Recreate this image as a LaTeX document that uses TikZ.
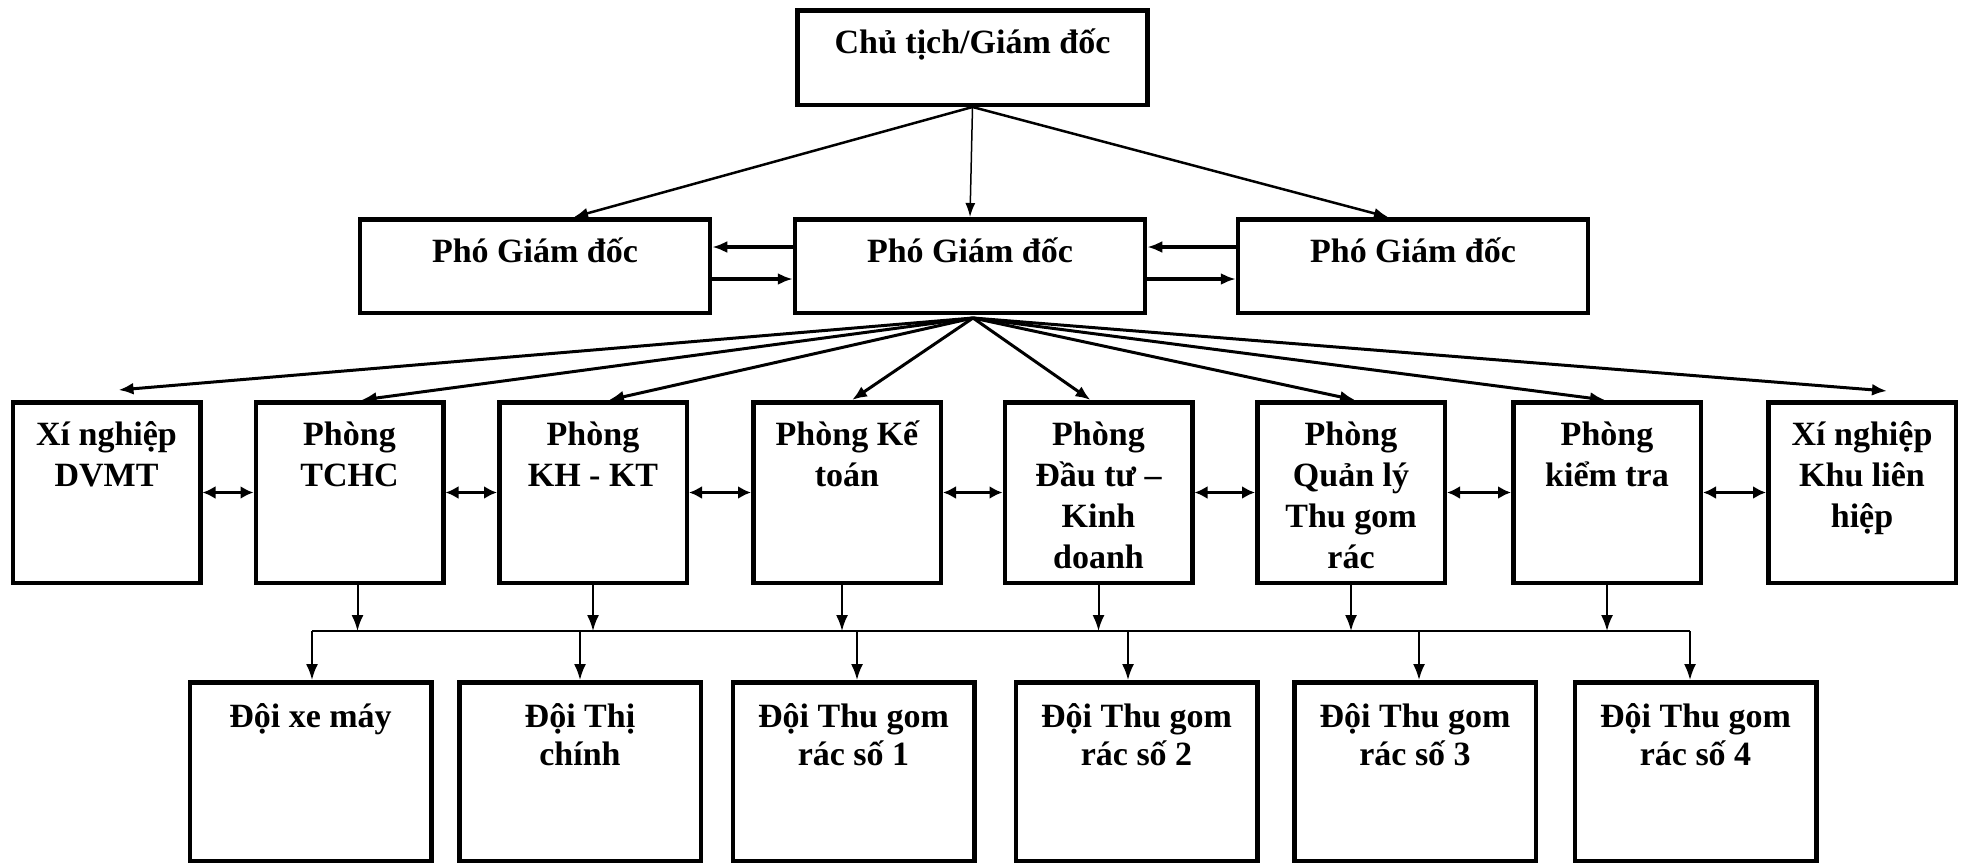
\documentclass[tikz,border=0pt]{standalone}
\usepackage{fontspec}
\setmainfont{Liberation Serif}
\usetikzlibrary{arrows.meta}
\newcommand\myStrutA{\rule{0pt}{43pt}}
\newcommand\myStrutB{\rule{0pt}{45pt}}
\newcommand\boxtxt[3]{\parbox[c][#2][t]{#1}{\centering #3}}
\begin{document}
\begin{tikzpicture}[x=1pt,y=-1pt,
  box/.style={draw, line width=4.5pt, inner sep=0pt, fill=white,
    font=\fontsize{34}{41}\selectfont\bfseries},
  topbox/.style={box, minimum width=350pt, minimum height=94.5pt},
  pgd/.style={box, minimum width=350pt, minimum height=93.5pt},
  rowbox/.style={box, minimum width=187.5pt, minimum height=180.5pt},
  botbox/.style={box, minimum width=241.5pt, minimum height=178.5pt,
    font=\fontsize{34}{38}\selectfont\bfseries},
  arrT/.style={-{Latex[length=14pt,width=11pt]}, line width=2.5pt},
  arrThin/.style={-{Latex[length=14pt,width=10pt]}, line width=1.5pt},
  arrH/.style={-{Latex[length=15pt,width=12pt]}, line width=3.5pt},
  arrF/.style={-{Latex[length=15pt,width=12pt]}, line width=3pt},
  arrD/.style={{Latex[length=13pt,width=13pt]}-{Latex[length=13pt,width=13pt]}, line width=3.5pt},
  arrV/.style={-{Latex[length=16pt,width=12pt]}, line width=2pt},
  bus/.style={line width=2pt}
]
\useasboundingbox (0,0) rectangle (1969,865);

% top
\node[topbox] (top) at (972.5,57.5) {\boxtxt{350pt}{94.5pt}{\myStrutA Chủ tịch/Giám đốc}};

% vice directors
\node[pgd] (pL) at (535,266) {\boxtxt{350pt}{93.5pt}{\myStrutA Phó Giám đốc}};
\node[pgd] (pC) at (970,266) {\boxtxt{350pt}{93.5pt}{\myStrutA Phó Giám đốc}};
\node[pgd] (pR) at (1413,266) {\boxtxt{350pt}{93.5pt}{\myStrutA Phó Giám đốc}};

% row 3
\node[rowbox] (b1) at (106.5,492.5) {\boxtxt{187.5pt}{180.5pt}{\myStrutA Xí nghiệp\\DVMT}};
\node[rowbox] (b2) at (349.5,492.5) {\boxtxt{187.5pt}{180.5pt}{\myStrutA Phòng\\TCHC}};
\node[rowbox] (b3) at (593,492.5) {\boxtxt{187.5pt}{180.5pt}{\myStrutA Phòng\\KH - KT}};
\node[rowbox] (b4) at (847,492.5) {\boxtxt{187.5pt}{180.5pt}{\myStrutA Phòng Kế\\toán}};
\node[rowbox] (b5) at (1098.5,492.5) {\boxtxt{187.5pt}{180.5pt}{\myStrutA Phòng\\Đầu tư –\\Kinh\\doanh}};
\node[rowbox] (b6) at (1351,492.5) {\boxtxt{187.5pt}{180.5pt}{\myStrutA Phòng\\Quản lý\\Thu gom\\rác}};
\node[rowbox] (b7) at (1607,492.5) {\boxtxt{187.5pt}{180.5pt}{\myStrutA Phòng\\kiểm tra}};
\node[rowbox] (b8) at (1862,492.5) {\boxtxt{187.5pt}{180.5pt}{\myStrutA Xí nghiệp\\Khu liên\\hiệp}};

% bottom row
\node[botbox] (ba) at (310.5,771.5) {\boxtxt{241.5pt}{178.5pt}{\myStrutB Đội xe máy}};
\node[botbox] (bb) at (580,771.5) {\boxtxt{241.5pt}{178.5pt}{\myStrutB Đội Thị\\chính}};
\node[botbox] (bc) at (853.5,771.5) {\boxtxt{241.5pt}{178.5pt}{\myStrutB Đội Thu gom\\rác số 1}};
\node[botbox] (bd) at (1136.5,771.5) {\boxtxt{241.5pt}{178.5pt}{\myStrutB Đội Thu gom\\rác số 2}};
\node[botbox] (be) at (1415,771.5) {\boxtxt{241.5pt}{178.5pt}{\myStrutB Đội Thu gom\\rác số 3}};
\node[botbox] (bf) at (1695.5,771.5) {\boxtxt{241.5pt}{178.5pt}{\myStrutB Đội Thu gom\\rác số 4}};

% top arrows
\draw[arrT] (top.south) -- ([xshift=39pt]pL.north);
\draw[arrThin] (top.south) -- (pC.north);
\draw[arrT] (top.south) -- ([xshift=-25pt]pR.north);

% between vice directors
\draw[arrH] ([yshift=19pt]pC.west) -- ([yshift=19pt]pL.east);
\draw[arrH] ([yshift=-13pt]pL.east) -- ([yshift=-13pt]pC.west);
\draw[arrH] ([yshift=19pt]pR.west) -- ([yshift=19pt]pC.east);
\draw[arrH] ([yshift=-13pt]pC.east) -- ([yshift=-13pt]pR.west);

% fan to row 3
\coordinate (fan) at (973,318);
\draw[arrF] (fan) -- ([xshift=12pt,yshift=10pt]b1.north);
\draw[arrF] (fan) -- ([xshift=12pt]b2.north);
\draw[arrF] (fan) -- ([xshift=16pt]b3.north);
\draw[arrF] (fan) -- ([xshift=5pt]b4.north);
\draw[arrF] (fan) -- ([xshift=-8pt]b5.north);
\draw[arrF] (fan) -- ([xshift=4pt]b6.north);
\draw[arrF] (fan) -- ([xshift=-2pt]b7.north);
\draw[arrF] (fan) -- ([xshift=25pt,yshift=9pt]b8.north);

% row 3 double arrows
\draw[arrD] (b1.east) -- (b2.west);
\draw[arrD] (b2.east) -- (b3.west);
\draw[arrD] (b3.east) -- (b4.west);
\draw[arrD] (b4.east) -- (b5.west);
\draw[arrD] (b5.east) -- (b6.west);
\draw[arrD] (b6.east) -- (b7.west);
\draw[arrD] (b7.east) -- (b8.west);

% bus
\coordinate (busL) at (312,631);
\coordinate (busR) at (1690,631);
\draw[bus] (busL) -- (busR);

% row 3 to bus
\draw[arrV] ([xshift=8pt]b2.south) -- ([xshift=8pt]b2.south |- busL);
\draw[arrV] (b3.south) -- (b3.south |- busL);
\draw[arrV] ([xshift=-5pt]b4.south) -- ([xshift=-5pt]b4.south |- busL);
\draw[arrV] (b5.south) -- (b5.south |- busL);
\draw[arrV] (b6.south) -- (b6.south |- busL);
\draw[arrV] (b7.south) -- (b7.south |- busL);

% bus to bottom row
\draw[arrV] (busL) -- (busL |- ba.north);
\draw[arrV] (bb.north |- busL) -- (bb.north);
\draw[arrV] ([xshift=3.5pt]bc.north |- busL) -- ([xshift=3.5pt]bc.north);
\draw[arrV] ([xshift=-8.5pt]bd.north |- busL) -- ([xshift=-8.5pt]bd.north);
\draw[arrV] ([xshift=4pt]be.north |- busL) -- ([xshift=4pt]be.north);
\draw[arrV] (busR) -- (busR |- bf.north);
\end{tikzpicture}
\end{document}
